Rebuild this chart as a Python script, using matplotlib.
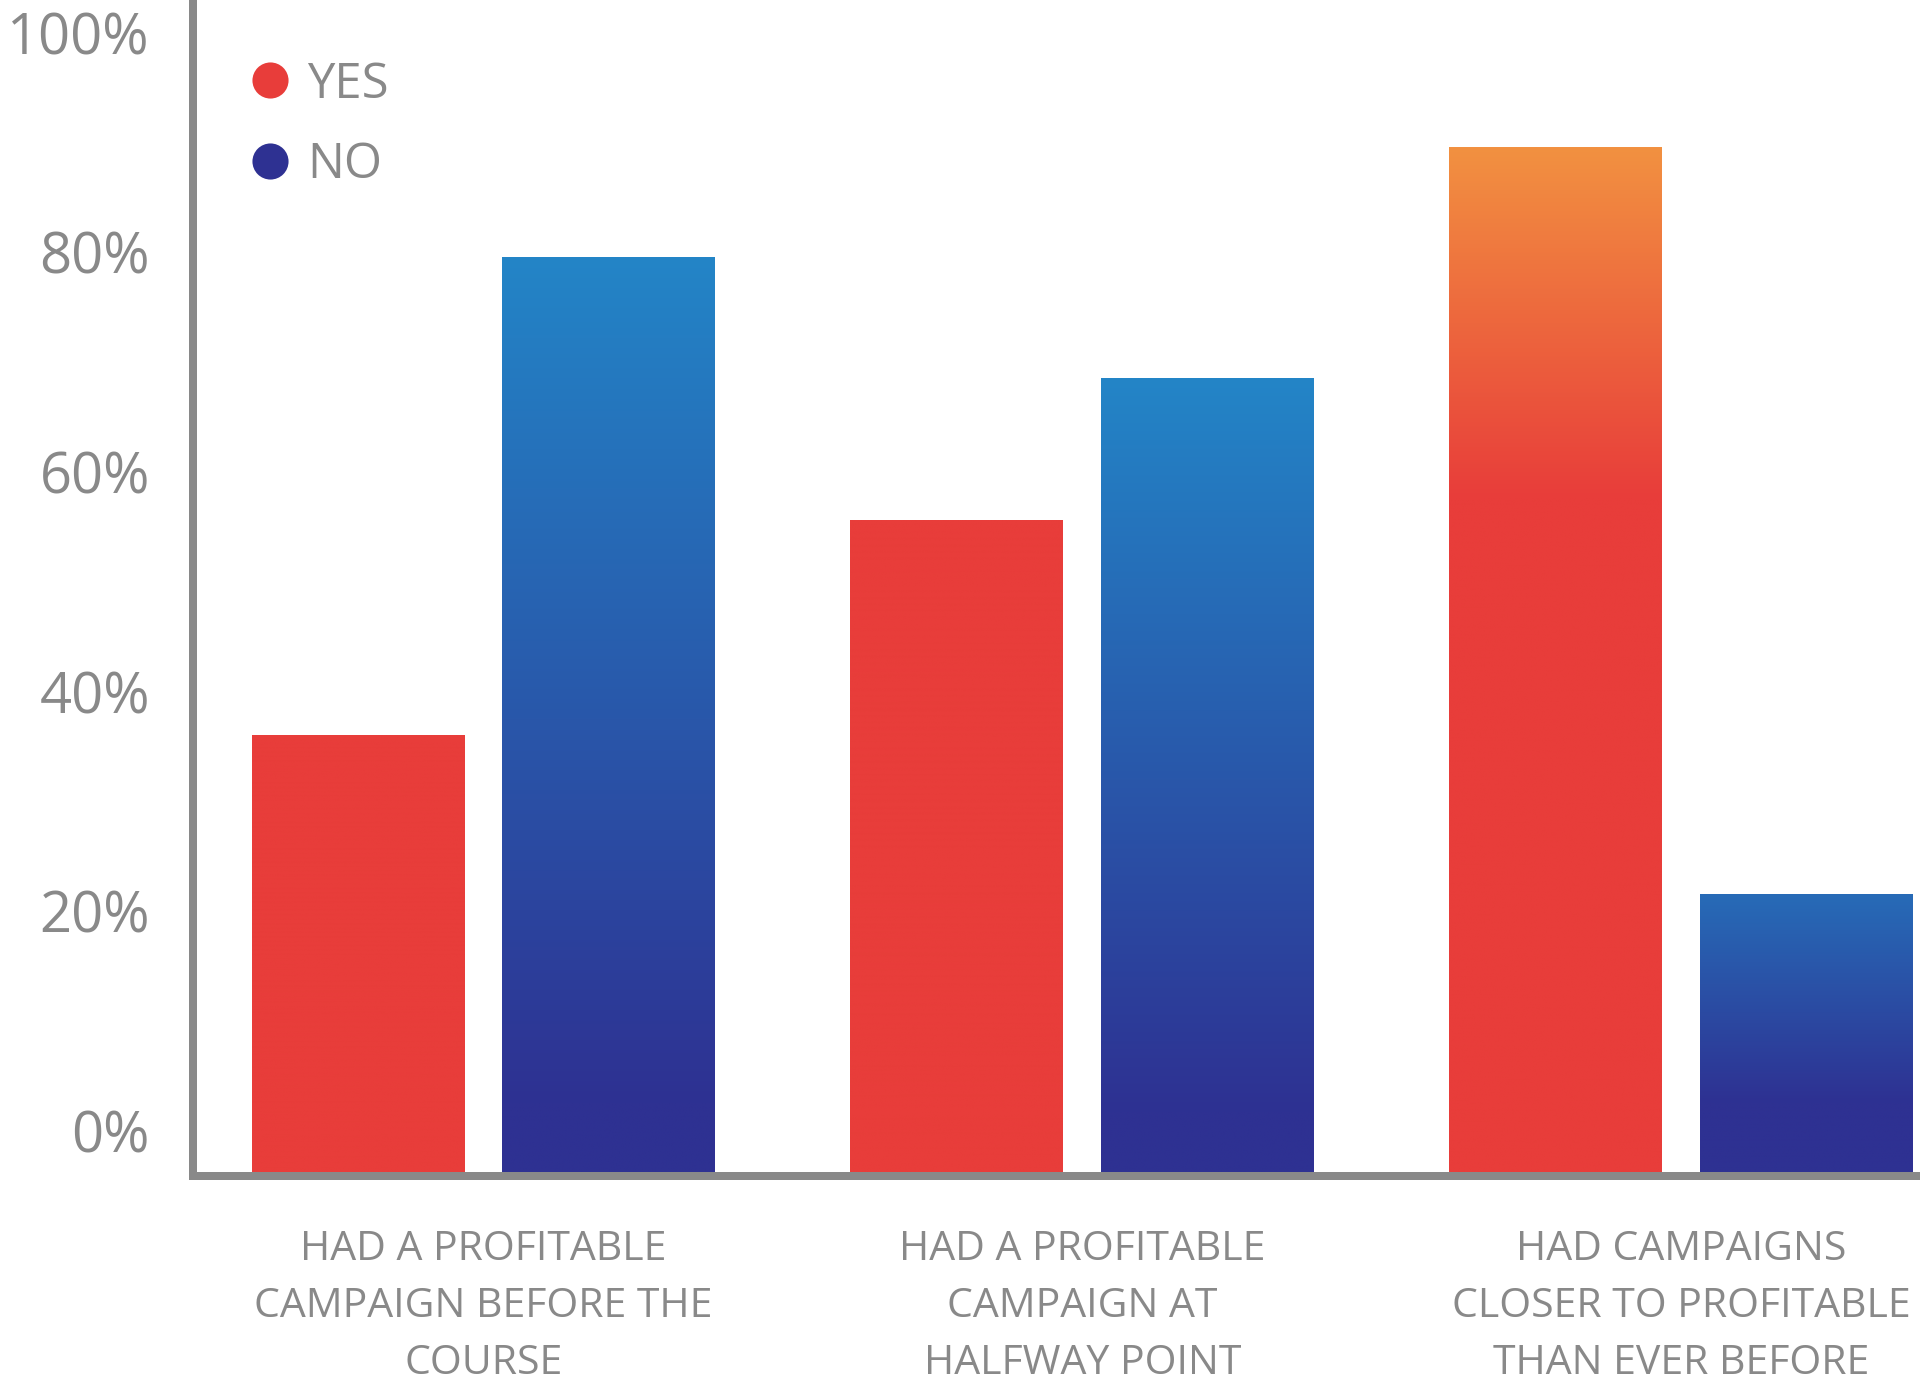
import numpy as np
import matplotlib
matplotlib.use("Agg")
import matplotlib.pyplot as plt
from matplotlib.lines import Line2D
from matplotlib.colors import to_rgb

# ---------------- data ----------------
categories = [
    "HAD A PROFITABLE\nCAMPAIGN BEFORE THE\nCOURSE",
    "HAD A PROFITABLE\nCAMPAIGN AT\nHALFWAY POINT",
    "HAD CAMPAIGNS\nCLOSER TO PROFITABLE\nTHAN EVER BEFORE",
]
series_names = ["YES", "NO"]
yes_values = [36, 55.5, 89.5]
no_values = [79.5, 68.5, 21.5]
y_ticks = [0, 20, 40, 60, 80, 100]
y_tick_labels = ["0%", "20%", "40%", "60%", "80%", "100%"]

# ---------------- style ----------------
GRAY = "#898989"
RED = "#E83D3A"
ORANGE = "#F29141"
BLUE_TOP = "#2385C7"
BLUE_MID = "#276BB7"
NAVY = "#2E3192"
FONT = "Open Sans"

# gradient per bar: (top colour, bottom colour, fraction from top where bottom colour is reached)
yes_grad = [(RED, RED, 1.0), (RED, RED, 1.0), (ORANGE, RED, 0.34)]
no_grad = [(BLUE_TOP, NAVY, 0.92), (BLUE_TOP, NAVY, 0.92), (BLUE_MID, NAVY, 0.74)]

W, H = 1920, 1385
DPI = 100
fig = plt.figure(figsize=(W / DPI, H / DPI), dpi=DPI, facecolor="white")

ax_left, ax_right = 193, 1918
ax_top, ax_bottom = 3, 1175.5
ax = fig.add_axes([ax_left / W, (H - ax_bottom) / H,
                   (ax_right - ax_left) / W, (ax_bottom - ax_top) / H])

YMIN, YMAX = -4.05, 102.7
ax.set_ylim(YMIN, YMAX)
ax.set_xlim(-0.485, 2.395)

x = np.arange(len(categories))
bw = 0.3556
off = 0.2095

yes_bars = ax.bar(x - off, np.array(yes_values) - YMIN, bottom=YMIN, width=bw,
                  color=RED, linewidth=0, zorder=2, label=series_names[0])
no_bars = ax.bar(x + off, np.array(no_values) - YMIN, bottom=YMIN, width=bw,
                 color=NAVY, linewidth=0, zorder=2, label=series_names[1])


def gradient_fill(bar, top, bottom, stop):
    x0, y0 = bar.get_xy()
    w, h = bar.get_width(), bar.get_height()
    n = 400
    f = np.linspace(0, 1, n)
    mix = np.clip(f / stop, 0, 1)[:, None]
    c = np.array(to_rgb(top))[None, :] * (1 - mix) + np.array(to_rgb(bottom))[None, :] * mix
    img = c[:, None, :]
    ax.imshow(img, extent=(x0, x0 + w, y0, y0 + h), origin="upper",
              aspect="auto", zorder=2.1, interpolation="bilinear")


for bar, g in zip(yes_bars, yes_grad):
    gradient_fill(bar, *g)
for bar, g in zip(no_bars, no_grad):
    gradient_fill(bar, *g)

ax.set_ylim(YMIN, YMAX)
ax.set_xlim(-0.485, 2.395)

# spines
for s in ["top", "right"]:
    ax.spines[s].set_visible(False)
for s in ["left", "bottom"]:
    ax.spines[s].set_color(GRAY)
    ax.spines[s].set_linewidth(8 * 72 / DPI)
    ax.spines[s].set_capstyle("projecting")
    ax.spines[s].set_zorder(5)

# ticks
ax.set_yticks(y_ticks)
ax.set_yticklabels(y_tick_labels, fontfamily=FONT, fontsize=40.3, color=GRAY)
ax.tick_params(axis="y", length=0, pad=31)
ax.set_xticks(x)
ax.set_xticklabels(categories, fontfamily=FONT, fontsize=29.5, color=GRAY)
ax.tick_params(axis="x", length=0, pad=39)
for t in ax.get_xticklabels():
    t.set_linespacing(1.54)

ax.set_facecolor("white")

# legend
handles = [
    Line2D([], [], marker="o", ls="", color=RED, markersize=26, markeredgewidth=0),
    Line2D([], [], marker="o", ls="", color=NAVY, markersize=26, markeredgewidth=0),
]
leg = fig.legend(handles, series_names, loc="upper left",
                 bbox_to_anchor=(250 / W, 1 - 60 / H), frameon=False,
                 prop={"family": FONT, "size": 35.3}, handlelength=0.8,
                 handletextpad=0.36, labelspacing=0.64, borderpad=0,
                 borderaxespad=0, labelcolor=GRAY)

fig.savefig("out.png", dpi=DPI, facecolor="white")
